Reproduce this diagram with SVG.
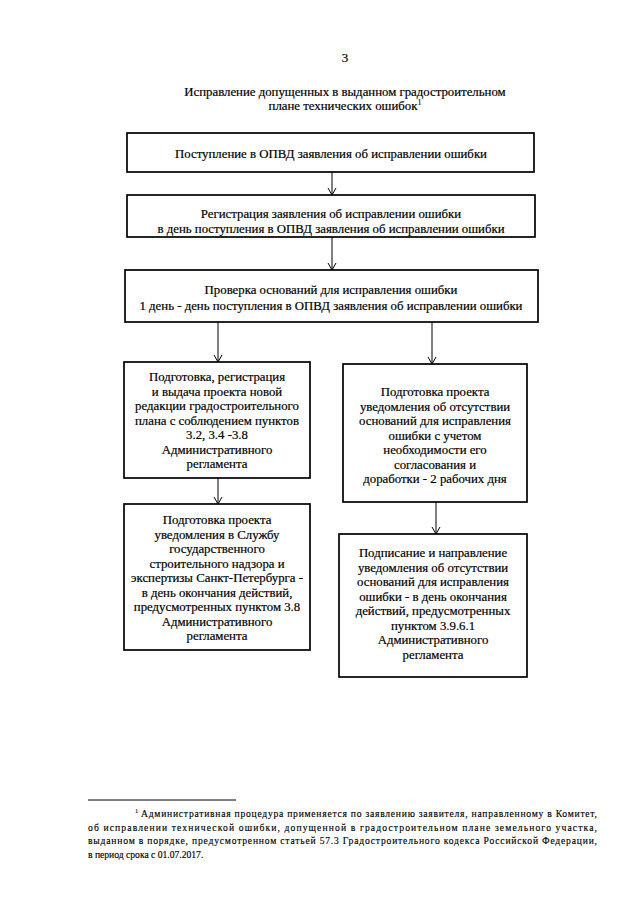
<svg xmlns="http://www.w3.org/2000/svg" width="640" height="905" viewBox="0 0 640 905">
<defs>
<marker id="arr" viewBox="0 0 10 10" refX="10" refY="5" markerWidth="10" markerHeight="10" markerUnits="userSpaceOnUse" orient="auto">
<path d="M3,1 L10,5 L3,9" fill="none" stroke="#000" stroke-width="1"/>
</marker>
<style>
text{font-family:"Liberation Serif","Times New Roman",serif;fill:#000;stroke:#000;stroke-width:0.2}
.t{font-size:12.8px;text-anchor:middle}
.h{font-size:12.8px;text-anchor:middle}
.f{font-size:9.6px;stroke-width:0.15}
.sup{font-size:6.5px;stroke-width:0.1}
.box{fill:#fff;stroke:#000;stroke-width:1.7}
.c{stroke:#000;stroke-width:1;fill:none;marker-end:url(#arr)}
</style>
</defs>
<rect width="640" height="905" fill="#fff"/>
<text class="h" x="345" y="62" style="font-size:13px">3</text>
<text class="h" x="345" y="96">Исправление допущенных в выданном градостроительном</text>
<text class="h" x="345" y="110">плане технических ошибок<tspan class="sup" style="font-size:8px" dy="-5">1</tspan></text>

<g id="connectors">
<line class="c" x1="332" y1="172" x2="332" y2="195"/>
<line class="c" x1="332" y1="237" x2="332" y2="270"/>
<line class="c" x1="218" y1="322" x2="218" y2="362"/>
<line class="c" x1="432" y1="322" x2="432" y2="364"/>
<line class="c" x1="218" y1="478" x2="218" y2="504"/>
<line class="c" x1="436" y1="502" x2="436" y2="534"/>
</g>

<g id="n1">
<rect class="box" x="127" y="133" width="407" height="39"/>
<text class="t" x="331" y="158">Поступление в ОПВД заявления об исправлении ошибки</text>
</g>
<g id="n2">
<rect class="box" x="127" y="195" width="408" height="42"/>
<text class="t" x="331" y="218">Регистрация заявления об исправлении ошибки</text>
<text class="t" x="331" y="233">в день поступления в ОПВД заявления об исправлении ошибки</text>
</g>
<g id="n3">
<rect class="box" x="125" y="270" width="413" height="52"/>
<text class="t" x="331" y="294">Проверка оснований для исправления ошибки</text>
<text class="t" x="331" y="310">1 день - день поступления в ОПВД заявления об исправлении ошибки</text>
</g>
<g id="n4">
<rect class="box" x="124" y="362" width="186" height="116"/>
<text class="t" x="217" y="381">Подготовка, регистрация</text>
<text class="t" x="217" y="395.5">и выдача проекта новой</text>
<text class="t" x="217" y="410">редакции градостроительного</text>
<text class="t" x="217" y="424.5">плана с соблюдением пунктов</text>
<text class="t" x="217" y="439">3.2, 3.4 -3.8</text>
<text class="t" x="217" y="453.5">Административного</text>
<text class="t" x="217" y="468">регламента</text>
</g>
<g id="n5">
<rect class="box" x="343" y="364" width="184" height="138"/>
<text class="t" x="435" y="396">Подготовка проекта</text>
<text class="t" x="435" y="410.5">уведомления об отсутствии</text>
<text class="t" x="435" y="425">оснований для исправления</text>
<text class="t" x="435" y="439.5">ошибки с учетом</text>
<text class="t" x="435" y="454">необходимости его</text>
<text class="t" x="435" y="468.5">согласования и</text>
<text class="t" x="435" y="483">доработки - 2 рабочих дня</text>
</g>
<g id="n6">
<rect class="box" x="124" y="504" width="186" height="146"/>
<text class="t" x="217" y="524">Подготовка проекта</text>
<text class="t" x="217" y="538.5">уведомления в Службу</text>
<text class="t" x="217" y="553">государственного</text>
<text class="t" x="217" y="567.5">строительного надзора и</text>
<text class="t" x="217" y="582">экспертизы Санкт-Петербурга -</text>
<text class="t" x="217" y="596.5">в день окончания действий,</text>
<text class="t" x="217" y="611">предусмотренных пунктом 3.8</text>
<text class="t" x="217" y="625.5">Административного</text>
<text class="t" x="217" y="640">регламента</text>
</g>
<g id="n7">
<rect class="box" x="339" y="534" width="188" height="143"/>
<text class="t" x="433" y="557">Подписание и направление</text>
<text class="t" x="433" y="571.5">уведомления об отсутствии</text>
<text class="t" x="433" y="586">оснований для исправления</text>
<text class="t" x="433" y="600.5">ошибки - в день окончания</text>
<text class="t" x="433" y="615">действий, предусмотренных</text>
<text class="t" x="433" y="629.5">пунктом 3.9.6.1</text>
<text class="t" x="433" y="644">Административного</text>
<text class="t" x="433" y="658.5">регламента</text>
</g>

<line x1="88" y1="800" x2="236" y2="800" stroke="#000" stroke-width="1"/>
<text class="sup" x="135" y="813">1</text>
<text class="f" x="141" y="817" textLength="456" lengthAdjust="spacing">Административная процедура применяется по заявлению заявителя, направленному в Комитет,</text>
<text class="f" x="88" y="831" textLength="509" lengthAdjust="spacing">об исправлении технической ошибки, допущенной в градостроительном плане земельного участка,</text>
<text class="f" x="88" y="844" textLength="509" lengthAdjust="spacing">выданном в порядке, предусмотренном статьей 57.3 Градостроительного кодекса Российской Федерации,</text>
<text class="f" x="88" y="858">в период срока с 01.07.2017.</text>
</svg>
